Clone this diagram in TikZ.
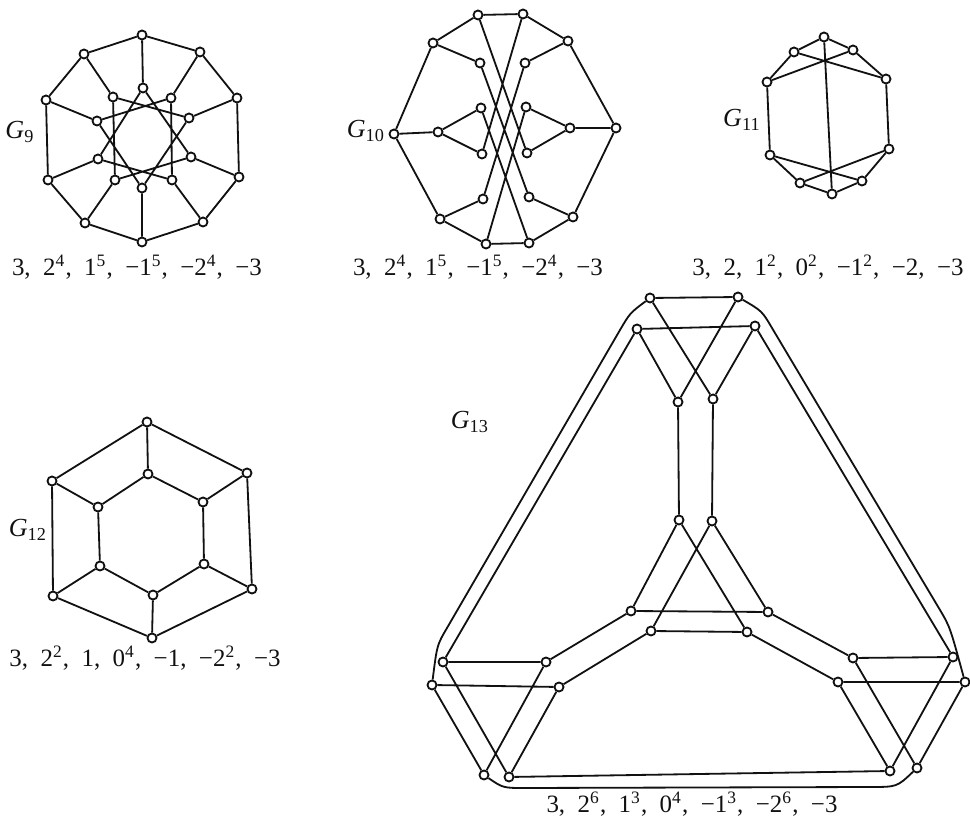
\documentclass[tikz,border=0pt]{standalone}
\usepackage{fontspec}
\setmainfont{Liberation Serif}
\usepackage{tikz}
\definecolor{gInk}{HTML}{111111}
\newcommand{\spw}[1]{\textsuperscript{#1}}
\tikzset{
  % Graph vertex (small open circle)
  vtx/.style={circle,draw=gInk,fill=white,line width=0.8pt,
    inner sep=0pt,minimum size=0.14cm},
  % Graph edge
  gedge/.style={draw=gInk,line width=0.8pt},
  % Graph name
  gname/.style={font=\fontsize{11.5}{13}\selectfont,text=gInk},
  % Spectrum under a graph
  spec/.style={font=\fontsize{11}{13}\selectfont,text=gInk},
}

\begin{document}
\begin{tikzpicture}[x=0.0155cm,y=-0.0155cm]
  \useasboundingbox (0,0) rectangle (970,816);

  % G9: outer ring
  \node[vtx] (g9o0) at (142,35) {};
  \node[vtx] (g9o1) at (200,52) {};
  \node[vtx] (g9o2) at (237,98) {};
  \node[vtx] (g9o3) at (239,177) {};
  \node[vtx] (g9o4) at (203,222) {};
  \node[vtx] (g9o5) at (142,242) {};
  \node[vtx] (g9o6) at (85,223) {};
  \node[vtx] (g9o7) at (48,180) {};
  \node[vtx] (g9o8) at (46,100) {};
  \node[vtx] (g9o9) at (84,54) {};
  % G9: inner star
  \node[vtx] (g9i0) at (143,88) {};
  \node[vtx] (g9i1) at (171,98) {};
  \node[vtx] (g9i2) at (189,118) {};
  \node[vtx] (g9i3) at (191,157) {};
  \node[vtx] (g9i4) at (172,180) {};
  \node[vtx] (g9i5) at (142,188) {};
  \node[vtx] (g9i6) at (115,180) {};
  \node[vtx] (g9i7) at (98,159) {};
  \node[vtx] (g9i8) at (97,121) {};
  \node[vtx] (g9i9) at (113,97) {};
  \node[gname] (g9name) at (20,132) {\textit{G}\textsubscript{9}};
  \node[spec] (g9spec) at (137,267)
    {3,\enspace 2\spw{4},\enspace 1\spw{5},\enspace −1\spw{5},\enspace −2\spw{4},\enspace −3};

  \draw[gedge] (g9o0) -- (g9o1) -- (g9o2) -- (g9o3) -- (g9o4) -- (g9o5)
    -- (g9o6) -- (g9o7) -- (g9o8) -- (g9o9) -- (g9o0);
  \draw[gedge] (g9o0) -- (g9i0) (g9o1) -- (g9i1) (g9o2) -- (g9i2)
    (g9o3) -- (g9i3) (g9o4) -- (g9i4) (g9o5) -- (g9i5) (g9o6) -- (g9i6)
    (g9o7) -- (g9i7) (g9o8) -- (g9i8) (g9o9) -- (g9i9);
  \draw[gedge] (g9i0) -- (g9i3) -- (g9i6) -- (g9i9) -- (g9i2) -- (g9i5)
    -- (g9i8) -- (g9i1) -- (g9i4) -- (g9i7) -- (g9i0);

  % G10: outer ring
  \node[vtx] (g10l) at (394,134) {};
  \node[vtx] (g10ul) at (433,43) {};
  \node[vtx] (g10t1) at (478,15) {};
  \node[vtx] (g10t2) at (523,14) {};
  \node[vtx] (g10ur) at (568,41) {};
  \node[vtx] (g10r) at (616,128) {};
  \node[vtx] (g10lr) at (573,217) {};
  \node[vtx] (g10b2) at (529,243) {};
  \node[vtx] (g10b1) at (486,244) {};
  \node[vtx] (g10ll) at (440,219) {};
  % G10: inner columns
  \node[vtx] (g10ml) at (438,132) {};
  \node[vtx] (g10mr) at (570,128) {};
  \node[vtx] (g10a1) at (480,63) {};
  \node[vtx] (g10a2) at (481,108) {};
  \node[vtx] (g10a3) at (482,154) {};
  \node[vtx] (g10a4) at (483,199) {};
  \node[vtx] (g10b1i) at (525,63) {};
  \node[vtx] (g10b2i) at (526,107) {};
  \node[vtx] (g10b3i) at (527,153) {};
  \node[vtx] (g10b4i) at (529,197) {};
  \node[gname] (g10name) at (366,131) {\textit{G}\textsubscript{10}};
  \node[spec] (g10spec) at (478,267)
    {3,\enspace 2\spw{4},\enspace 1\spw{5},\enspace −1\spw{5},\enspace −2\spw{4},\enspace −3};

  \draw[gedge] (g10l) -- (g10ul) -- (g10t1) -- (g10t2) -- (g10ur) -- (g10r)
    -- (g10lr) -- (g10b2) -- (g10b1) -- (g10ll) -- (g10l);
  \draw[gedge] (g10l) -- (g10ml) (g10r) -- (g10mr)
    (g10ul) -- (g10a1) (g10ll) -- (g10a4) (g10ur) -- (g10b1i) (g10lr) -- (g10b4i);
  \draw[gedge] (g10a2) -- (g10ml) -- (g10a3) (g10b2i) -- (g10mr) -- (g10b3i);
  \draw[gedge] (g10t1) -- (g10b3i) (g10t2) -- (g10a3)
    (g10b1) -- (g10b2i) (g10b2) -- (g10a2)
    (g10a1) -- (g10b4i) (g10b1i) -- (g10a4);

  % G11
  \node[vtx] (g11t) at (824,37) {};
  \node[vtx] (g11a) at (794,52) {};
  \node[vtx] (g11b) at (853,50) {};
  \node[vtx] (g11c) at (767,82) {};
  \node[vtx] (g11d) at (886,79) {};
  \node[vtx] (g11e) at (770,155) {};
  \node[vtx] (g11f) at (889,149) {};
  \node[vtx] (g11g) at (800,183) {};
  \node[vtx] (g11h) at (862,181) {};
  \node[vtx] (g11b0) at (832,194) {};
  \node[gname] (g11name) at (742,120) {\textit{G}\textsubscript{11}};
  \node[spec] (g11spec) at (828,267)
    {3,\enspace 2,\enspace 1\spw{2},\enspace 0\spw{2},\enspace −1\spw{2},\enspace −2,\enspace −3};

  \draw[gedge] (g11t) -- (g11a) -- (g11c) -- (g11e) -- (g11g) -- (g11b0)
    -- (g11h) -- (g11f) -- (g11d) -- (g11b) -- (g11t);
  \draw[gedge] (g11a) -- (g11d) (g11b) -- (g11c) (g11t) -- (g11b0)
    (g11e) -- (g11h) (g11g) -- (g11f);

  % G12: hexagonal prism
  \node[vtx] (g12t) at (147,422) {};
  \node[vtx] (g12ur) at (247,473) {};
  \node[vtx] (g12lr) at (252,589) {};
  \node[vtx] (g12b) at (152,638) {};
  \node[vtx] (g12ll) at (53,596) {};
  \node[vtx] (g12ul) at (52,481) {};
  \node[vtx] (g12ti) at (148,474) {};
  \node[vtx] (g12uri) at (203,502) {};
  \node[vtx] (g12lri) at (204,564) {};
  \node[vtx] (g12bi) at (153,595) {};
  \node[vtx] (g12lli) at (100,566) {};
  \node[vtx] (g12uli) at (98,507) {};
  \node[gname] (g12name) at (28,530) {\textit{G}\textsubscript{12}};
  \node[spec] (g12spec) at (145,658)
    {3,\enspace 2\spw{2},\enspace 1,\enspace 0\spw{4},\enspace −1,\enspace −2\spw{2},\enspace −3};

  \draw[gedge] (g12t) -- (g12ur) -- (g12lr) -- (g12b) -- (g12ll) -- (g12ul) -- (g12t);
  \draw[gedge] (g12ti) -- (g12uri) -- (g12lri) -- (g12bi) -- (g12lli) -- (g12uli) -- (g12ti);
  \draw[gedge] (g12t) -- (g12ti) (g12ur) -- (g12uri) (g12lr) -- (g12lri)
    (g12b) -- (g12bi) (g12ll) -- (g12lli) (g12ul) -- (g12uli);

  % G13: top arm
  \node[vtx] (g13t1) at (650,298) {};
  \node[vtx] (g13t2) at (738,297) {};
  \node[vtx] (g13t3) at (637,329) {};
  \node[vtx] (g13t4) at (755,326) {};
  \node[vtx] (g13t5) at (678,402) {};
  \node[vtx] (g13t6) at (713,399) {};
  % G13: centre
  \node[vtx] (g13c1) at (679,520) {};
  \node[vtx] (g13c2) at (712,521) {};
  \node[vtx] (g13c3) at (631,611) {};
  \node[vtx] (g13c4) at (768,612) {};
  \node[vtx] (g13c5) at (651,631) {};
  \node[vtx] (g13c6) at (747,632) {};
  % G13: left arm
  \node[vtx] (g13l1) at (546,662) {};
  \node[vtx] (g13l2) at (443,662) {};
  \node[vtx] (g13l3) at (559,687) {};
  \node[vtx] (g13l4) at (432,685) {};
  \node[vtx] (g13l5) at (484,775) {};
  \node[vtx] (g13l6) at (509,777) {};
  % G13: right arm
  \node[vtx] (g13r1) at (853,658) {};
  \node[vtx] (g13r2) at (953,657) {};
  \node[vtx] (g13r3) at (838,682) {};
  \node[vtx] (g13r4) at (965,682) {};
  \node[vtx] (g13r5) at (890,771) {};
  \node[vtx] (g13r6) at (917,768) {};
  \node[gname] (g13name) at (470,422) {\textit{G}\textsubscript{13}};
  \node[spec] (g13spec) at (692,804)
    {3,\enspace 2\spw{6},\enspace 1\spw{3},\enspace 0\spw{4},\enspace −1\spw{3},\enspace −2\spw{6},\enspace −3};

  \draw[gedge] (g13t1) -- (g13t2) (g13t3) -- (g13t4)
    (g13t1) -- (g13t6) (g13t2) -- (g13t5) (g13t3) -- (g13t5) (g13t4) -- (g13t6)
    (g13t5) -- (g13c1) (g13t6) -- (g13c2);
  \draw[gedge] (g13c1) -- (g13c3) (g13c1) -- (g13c6) (g13c2) -- (g13c5) (g13c2) -- (g13c4)
    (g13c3) -- (g13c4) (g13c5) -- (g13c6);
  \draw[gedge] (g13c3) -- (g13l1) -- (g13l2) (g13c5) -- (g13l3) -- (g13l4)
    (g13l2) -- (g13l6) (g13l1) -- (g13l5) (g13l4) -- (g13l5) (g13l3) -- (g13l6);
  \draw[gedge] (g13c4) -- (g13r1) -- (g13r2) (g13c6) -- (g13r3) -- (g13r4)
    (g13r1) -- (g13r6) (g13r3) -- (g13r5) (g13r2) -- (g13r5) (g13r4) -- (g13r6);
  \draw[gedge] (g13l6) -- (g13r5) (g13t3) -- (g13l2) (g13t4) -- (g13r2);

  % G13: outer rounded connectors
  \coordinate (lw1) at (620,330);
  \coordinate (lw2) at (447,628);
  \coordinate (rw1) at (772,328);
  \coordinate (rw2) at (940,610);
  \coordinate (bw1) at (525,788);
  \coordinate (bw2) at (870,787);
  \draw[gedge] (g13t1) .. controls (630,313) .. (lw1) -- (lw2)
    .. controls (437,645) .. (g13l4);
  \draw[gedge] (g13t2) .. controls (762,311) .. (rw1) -- (rw2)
    .. controls (950,627) .. (g13r4);
  \draw[gedge] (g13l5) .. controls (503,788) .. (bw1) -- (bw2)
    .. controls (897,787) .. (g13r6);
\end{tikzpicture}
\end{document}
